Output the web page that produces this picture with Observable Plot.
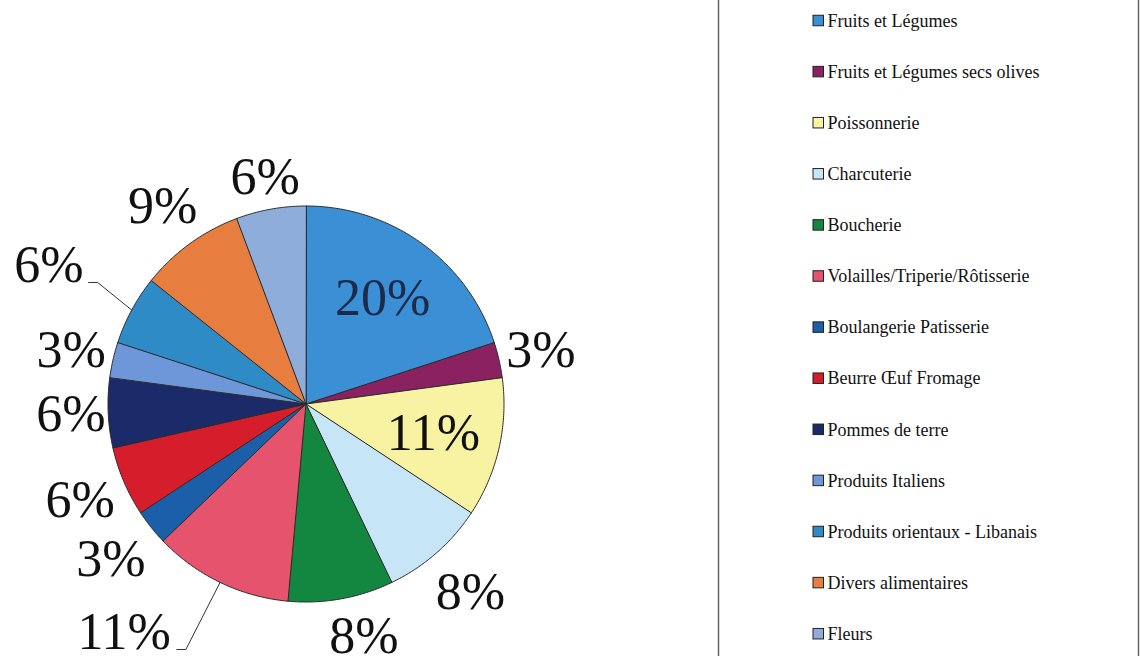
<!DOCTYPE html>
<html>
<head>
<meta charset="utf-8">
<script src="https://cdn.jsdelivr.net/npm/d3@7"></script>
<script src="https://cdn.jsdelivr.net/npm/@observablehq/plot@0.6"></script>
<style>
  html, body { margin: 0; padding: 0; background: #fff; }
  #chart { width: 1140px; height: 656px; overflow: hidden; }
</style>
</head>
<body>
<div id="chart"></div>
<script>
// ---- data ----
const categories = [
  "Fruits et Légumes",
  "Fruits et Légumes secs olives",
  "Poissonnerie",
  "Charcuterie",
  "Boucherie",
  "Volailles/Triperie/Rôtisserie",
  "Boulangerie Patisserie",
  "Beurre Œuf Fromage",
  "Pommes de terre",
  "Produits Italiens",
  "Produits orientaux - Libanais",
  "Divers alimentaires",
  "Fleurs"
];
// slice shares
const values = [20.0, 2.9, 11.4, 8.6, 8.6, 11.4, 2.9, 5.7, 5.7, 2.9, 5.7, 8.6, 5.7];
// percentage labels as printed on the chart
const labels = ["20%", "3%", "11%", "8%", "8%", "11%", "3%", "6%", "6%", "3%", "6%", "9%", "6%"];
const colors = [
  "#3b8fd5", "#8a2261", "#f7f3a2", "#c6e6f8", "#13873f", "#e6536d", "#1b5fa9",
  "#d61d2b", "#1b2a68", "#6d97d8", "#2e8bc6", "#e77e3f", "#8eaddb"
];
const insideLabels = ["Fruits et Légumes", "Poissonnerie"];
const leaderLabels = ["Produits orientaux - Libanais", "Volailles/Triperie/Rôtisserie"];

// ---- layout ----
const W = 1140, H = 656;
const cx = 305.5, cy = 403.5, R = 198;
const labelSize = 52;
const FONT = "Liberation Serif";

const rows = categories.map((name, i) => ({name, value: values[i], label: labels[i], color: colors[i]}));
const arcs = d3.pie().sort(null).value(d => d.value).startAngle(0).endAngle(2 * Math.PI)(rows);
const pt = (a, r) => [cx + r * Math.sin(a), cy - r * Math.cos(a)];

// wedge outlines
const wedgePts = [];
arcs.forEach(a => {
  const name = a.data.name;
  wedgePts.push({name, x: cx, y: cy});
  const n = Math.max(2, Math.ceil((a.endAngle - a.startAngle) / (Math.PI / 360)));
  for (let k = 0; k <= n; k++) {
    const ang = a.startAngle + (a.endAngle - a.startAngle) * k / n;
    const [x, y] = pt(ang, R);
    wedgePts.push({name, x, y});
  }
});

// labels
const labelRows = [];
const leaderPts = [];
arcs.forEach(a => {
  const name = a.data.name;
  const mid = (a.startAngle + a.endAngle) / 2;
  const text = a.data.label;
  const inside = insideLabels.includes(name);
  const leader = leaderLabels.includes(name);
  const up = Math.max(0, Math.cos(mid));
  const r = inside ? 0.66 * R
          : leader ? 292
          : R + 36 + 16 * Math.abs(Math.sin(2 * mid)) - 10 * up * up * up;
  let [x, y] = pt(mid, r);
  const yMax = leader ? H - 24 : H - 20;
  if (y > yMax) {
    y = yMax;
    const dy = y - cy;
    x = cx + Math.sign(Math.sin(mid)) * Math.sqrt(Math.max(0, r * r - dy * dy));
  }
  labelRows.push({name, text, x, y, inside});
  if (leader) {
    const chars = text.length - 1;
    const hw = labelSize * (0.5 * chars + 0.833) / 2;
    const [ex, ey] = pt(mid, R);
    leaderPts.push({name, x: ex, y: ey});
    leaderPts.push({name, x: x + hw + 14, y: y + 17});
    leaderPts.push({name, x: x + hw + 5, y: y + 17});
  }
});

// legend
const legendX = 813, legendY0 = 20.5, legendStep = 51.1, sw = 10.5;
const legendRows = rows.map((d, i) => ({...d, cy: legendY0 + i * legendStep}));

const chart = Plot.plot({
  width: W,
  height: H,
  margin: 0,
  style: {background: "#fff"},
  x: {domain: [0, W], range: [0, W], axis: null},
  y: {domain: [0, H], range: [0, H], axis: null},
  color: {domain: categories, range: colors},
  marks: [
    Plot.ruleX([718], {y1: 0, y2: H, stroke: "#666", strokeWidth: 1.5}),
    Plot.ruleX([1138], {y1: 0, y2: H, stroke: "#666", strokeWidth: 1.5}),
    Plot.line(wedgePts, {x: "x", y: "y", z: "name", fill: "name", stroke: "#2a2a2a", strokeWidth: 1, curve: "linear-closed"}),
    Plot.line(leaderPts, {x: "x", y: "y", z: "name", stroke: "#333", strokeWidth: 1}),
    Plot.text(labelRows, {
      x: "x", y: "y", text: "text",
      fontSize: labelSize, fontFamily: FONT,
      fill: d => d.inside && d.name === "Fruits et Légumes" ? "#1c2a4c" : "#111",
      textAnchor: "middle", lineAnchor: "middle"
    }),
    Plot.rect(legendRows, {
      x1: legendX, x2: legendX + sw,
      y1: d => d.cy - sw / 2, y2: d => d.cy + sw / 2,
      fill: "name", stroke: "#222", strokeWidth: 1
    }),
    Plot.text(legendRows, {
      x: legendX + sw + 3.5, y: "cy", text: "name",
      fontSize: 18, fontFamily: FONT, fill: "#111",
      textAnchor: "start", lineAnchor: "middle"
    })
  ]
});
document.getElementById("chart").appendChild(chart);
</script>
</body>
</html>
